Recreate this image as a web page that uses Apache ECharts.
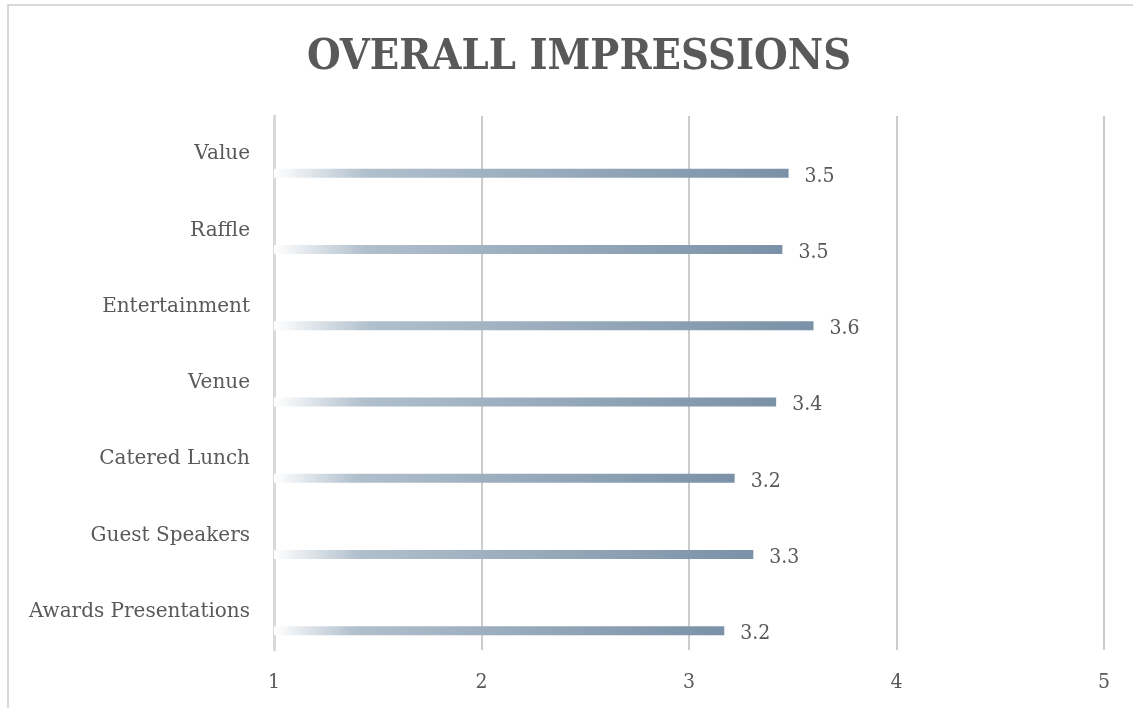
<!DOCTYPE html>
<html>
<head>
<meta charset="utf-8">
<style>
  html, body { margin: 0; padding: 0; background: #ffffff; }
  #chart { width: 1133px; height: 708px; }
</style>
<script src="https://cdn.jsdelivr.net/npm/echarts@6/dist/echarts.min.js"></script>
</head>
<body>
<div id="chart"></div>
<script>
// Survey categories, listed bottom to top
const categories = [
  'Awards Presentations',
  'Guest Speakers',
  'Catered Lunch',
  'Venue',
  'Entertainment',
  'Raffle',
  'Value'
];
// Average rating per category (1–5 scale)
const ratings = [3.17, 3.31, 3.22, 3.42, 3.60, 3.45, 3.48];
// Empty companion series that keeps the slot above each bar
const spacer = categories.map(() => null);
const xTicks = [1, 2, 3, 4, 5];

const serif = '"DejaVu Serif", "Liberation Serif", serif';
const serifNarrow = '"DejaVu Serif Condensed", "DejaVu Serif", "Liberation Serif", serif';
const textColor = '#595959';

const chart = echarts.init(document.getElementById('chart'), null, { renderer: 'canvas' });

chart.setOption({
  backgroundColor: '#ffffff',
  animation: false,
  title: {
    text: 'OVERALL IMPRESSIONS',
    left: 574,
    top: 31,
    textAlign: 'center',
    textStyle: {
      fontFamily: serifNarrow,
      fontWeight: 'bold',
      fontSize: 43,
      color: textColor
    }
  },
  graphic: [{
    type: 'rect',
    shape: { x: 8, y: 5, width: 1140, height: 720 },
    style: { fill: 'none', stroke: '#d9d9d9', lineWidth: 2 },
    silent: true
  }],
  grid: { left: 274, right: 29, top: 116, bottom: 58, containLabel: false },
  xAxis: {
    type: 'value',
    min: xTicks[0],
    max: xTicks[xTicks.length - 1],
    interval: 1,
    axisLine: { show: false },
    axisTick: { show: false },
    splitLine: { show: true, lineStyle: { color: '#cccccc', width: 2 } },
    axisLabel: {
      margin: 22,
      fontFamily: serifNarrow,
      fontSize: 21,
      color: textColor
    }
  },
  yAxis: {
    type: 'category',
    data: categories,
    axisLine: { show: true, lineStyle: { color: '#d9d9d9', width: 3 } },
    axisTick: { show: false },
    axisLabel: {
      margin: 24,
      fontFamily: serif,
      fontSize: 20,
      color: textColor
    }
  },
  series: [
    {
      name: 'spacer',
      type: 'bar',
      data: spacer,
      barWidth: 9,
      barGap: '322%',
      silent: true
    },
    {
      name: 'Rating',
      type: 'bar',
      data: ratings,
      barWidth: 9,
      barGap: '322%',
      itemStyle: {
        color: new echarts.graphic.LinearGradient(0, 0, 1, 0, [
          { offset: 0, color: '#ffffff' },
          { offset: 0.18, color: '#b0bfcc' },
          { offset: 1, color: '#7a91a7' }
        ])
      },
      label: {
        show: true,
        position: 'right',
        distance: 16,
        offset: [0, 3],
        fontFamily: serifNarrow,
        fontSize: 21,
        color: textColor,
        formatter: p => p.value.toFixed(1)
      }
    }
  ]
});
</script>
</body>
</html>
